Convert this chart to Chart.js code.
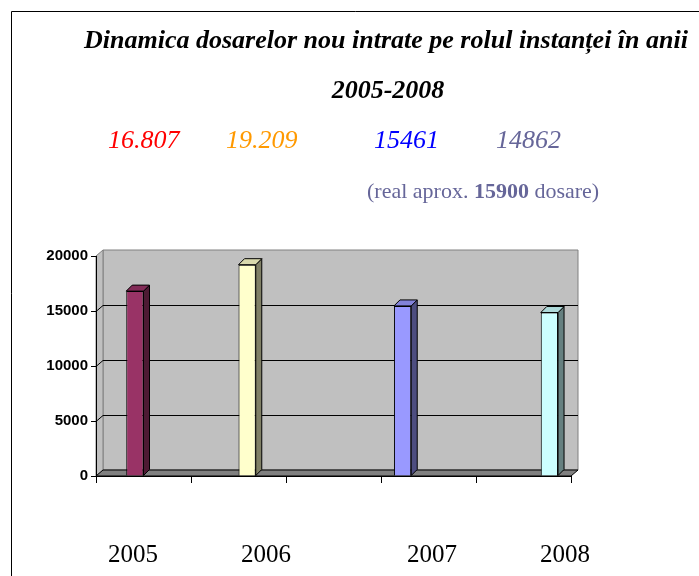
<!DOCTYPE html>
<html>
<head>
<meta charset="utf-8">
<script src="https://cdn.jsdelivr.net/npm/chart.js@4"></script>
<style>
  body { margin: 0; background: #fff; }
</style>
</head>
<body>
<canvas id="dosare" width="699" height="576"></canvas>
<script>
// categorii (5 pozitii pe axa, fara etichete)
const categories = ['', '', '', '', '']

// serii - ordinea din foaia Excel
const serie2007 = [null, null, null, 15461, null]
const serie2005 = [16807, null, null, null, null]
const serie2006 = [null, 19209, null, null, null]
const serie2008 = [null, null, null, null, 14862]

// axa Y
const yMin = 0
const yMax = 20000
const yStep = 5000

// texte
const titleLine1 = 'Dinamica dosarelor nou intrate pe rolul instanței în anii'
const titleLine2 = '2005-2008'
const headerValues = ['16.807', '19.209', '15461', '14862']
const headerColors = ['#FF0000', '#FF9900', '#0000FF', '#666699']
const yearLabels = ['2005', '2006', '2007', '2008']

const DX = 6, DY = 6      // adancime bare
const WX = 7, WY = 6      // adancime pereti

function shade(hex, f) {
    const n = parseInt(hex.slice(1), 16)
    const r = Math.round(((n >> 16) & 255) * f)
    const g = Math.round(((n >> 8) & 255) * f)
    const b = Math.round((n & 255) * f)
    return `rgb(${r}, ${g}, ${b})`
}

function poly(ctx, pts, fill, stroke) {
    ctx.beginPath()
    ctx.moveTo(pts[0][0], pts[0][1])
    for (let i = 1; i < pts.length; i++) ctx.lineTo(pts[i][0], pts[i][1])
    ctx.closePath()
    if (fill) { ctx.fillStyle = fill; ctx.fill() }
    if (stroke) { ctx.strokeStyle = stroke; ctx.lineWidth = 1; ctx.stroke() }
}

// peretii, podeaua si liniile de grila (inainte de axe)
const wallsPlugin = {
    id: 'walls',
    beforeDraw(chart) {
        const ctx = chart.ctx
        const a = chart.chartArea
        const y = chart.scales.y
        ctx.save()
        // chenar exterior
        ctx.strokeStyle = '#000'
        ctx.lineWidth = 1
        ctx.beginPath()
        ctx.moveTo(11.5, 576)
        ctx.lineTo(11.5, 11.5)
        ctx.lineTo(699, 11.5)
        ctx.stroke()

        const L = a.left, R = a.right, T = a.top, B = a.bottom
        // perete spate
        poly(ctx, [[L + WX, T - WY], [R + WX, T - WY], [R + WX, B - WY], [L + WX, B - WY]], '#C0C0C0', '#808080')
        // perete stanga
        poly(ctx, [[L, B], [L + WX, B - WY], [L + WX, T - WY], [L, T]], '#C0C0C0', '#808080')
        // grila
        ctx.strokeStyle = '#000'
        ctx.lineWidth = 1
        y.ticks.forEach(t => {
            if (t.value <= yMin || t.value >= yMax) return
            const py = Math.round(y.getPixelForValue(t.value)) + 0.5
            ctx.beginPath()
            ctx.moveTo(L, py)
            ctx.lineTo(L + WX, py - WY)
            ctx.lineTo(R + WX, py - WY)
            ctx.stroke()
        })
        // podea
        poly(ctx, [[L, B], [R, B], [R + WX, B - WY], [L + WX, B - WY]], '#808080', '#000')
        ctx.restore()
    }
}

// fetele laterale si de sus ale barelor
const bars3dPlugin = {
    id: 'bars3d',
    afterDatasetsDraw(chart) {
        const ctx = chart.ctx
        ctx.save()
        chart.data.datasets.forEach((ds, di) => {
            const meta = chart.getDatasetMeta(di)
            meta.data.forEach((bar, i) => {
                if (ds.data[i] == null) return
                const l = bar.x - bar.width / 2
                const r = bar.x + bar.width / 2
                const top = bar.y
                const base = bar.base
                poly(ctx, [[r, top], [r + DX, top - DY], [r + DX, base - DY], [r, base]], shade(ds.backgroundColor, 0.5), '#000')
                poly(ctx, [[l, top], [l + DX, top - DY], [r + DX, top - DY], [r, top]], shade(ds.backgroundColor, 0.85), '#000')
            })
        })
        ctx.restore()
    }
}

// titlu, valori, ani
const textsPlugin = {
    id: 'texts',
    afterDraw(chart) {
        const ctx = chart.ctx
        ctx.save()
        ctx.fillStyle = '#000'
        ctx.textAlign = 'center'
        ctx.textBaseline = 'alphabetic'
        ctx.font = 'italic bold 26px "Liberation Serif"'
        ctx.fillText(titleLine1, 386, 48)
        ctx.fillText(titleLine2, 388, 98)

        ctx.textAlign = 'left'
        ctx.font = 'italic 26px "Liberation Serif"'
        const hx = [108, 226, 374, 496]
        headerValues.forEach((v, i) => {
            ctx.fillStyle = headerColors[i]
            ctx.fillText(v, hx[i], 148)
        })

        // (real aprox. 15900 dosare)
        ctx.fillStyle = '#666699'
        let x = 367
        const parts = [['(real aprox. ', ''], ['15900', 'bold '], [' dosare)', '']]
        parts.forEach(p => {
            ctx.font = p[1] + '22px "Liberation Serif"'
            ctx.fillText(p[0], x, 198)
            x += ctx.measureText(p[0]).width
        })

        ctx.fillStyle = '#000'
        ctx.textAlign = 'center'
        ctx.font = '25px "Liberation Serif"'
        const yx = [133, 266, 432, 565]
        yearLabels.forEach((t, i) => ctx.fillText(t, yx[i], 562))
        ctx.restore()
    }
}

const datasets = [
    { label: '2007', data: serie2007, backgroundColor: '#9999FF' },
    { label: '2005', data: serie2005, backgroundColor: '#993366' },
    { label: '2006', data: serie2006, backgroundColor: '#FFFFCC' },
    { label: '2008', data: serie2008, backgroundColor: '#CCFFFF' }
].map(d => Object.assign(d, {
    borderColor: '#000',
    borderWidth: 1,
    categoryPercentage: 4 / 5.5,
    barPercentage: 1
}))

const config = {
    type: 'bar',
    data: { labels: categories, datasets: datasets },
    options: {
        responsive: false,
        animation: false,
        devicePixelRatio: 1,
        layout: { padding: { top: 256, right: 128, left: 0, bottom: 0 } },
        plugins: {
            legend: { display: false },
            tooltip: { enabled: false },
            title: { display: false }
        },
        scales: {
            x: {
                type: 'category',
                grid: { display: true, drawOnChartArea: false, drawTicks: true, tickLength: 7, color: '#000', offset: true },
                border: { display: true, color: '#000' },
                ticks: { display: false },
                afterFit: s => { s.height = 100 }
            },
            y: {
                min: yMin,
                max: yMax,
                grid: { display: true, drawOnChartArea: false, drawTicks: true, tickLength: 5, color: '#000' },
                border: { display: true, color: '#000' },
                ticks: {
                    stepSize: yStep,
                    padding: 3,
                    color: '#000',
                    font: { family: 'Liberation Sans', size: 15, weight: 'bold' },
                    callback: v => String(v)
                },
                afterFit: s => { s.width = 96 }
            }
        }
    },
    plugins: [wallsPlugin, bars3dPlugin, textsPlugin]
}

new Chart(document.getElementById('dosare'), config)
</script>
</body>
</html>
